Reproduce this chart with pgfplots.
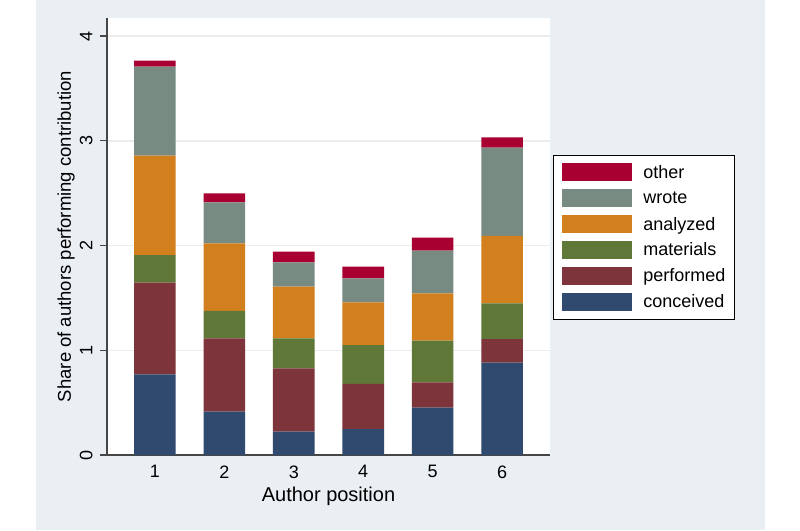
\documentclass[border=0pt]{standalone}
\usepackage{fontspec}
\setmainfont{Liberation Sans}
\usepackage{pgfplots}
\usepackage{pgfplotstable}
\pgfplotsset{compat=1.18}

\definecolor{bgblue}{HTML}{E9EFF3}
\definecolor{cconc}{RGB}{47,74,110}
\definecolor{cperf}{RGB}{125,52,58}
\definecolor{cmat}{RGB}{95,120,55}
\definecolor{canal}{RGB}{210,127,30}
\definecolor{cwrote}{RGB}{120,139,131}
\definecolor{cother}{RGB}{168,0,48}
\definecolor{axgray}{RGB}{70,70,70}
\definecolor{gridgray}{RGB}{236,236,236}

% share of authors per contribution, by author position
\pgfplotstableread{
pos conceived performed materials analyzed wrote other
1   0.770     0.875     0.264     0.948    0.850 0.057
2   0.414     0.700     0.261     0.646    0.391 0.086
3   0.223     0.604     0.287     0.493    0.232 0.102
4   0.248     0.430     0.372     0.408    0.229 0.111
5   0.452     0.242     0.397     0.452    0.407 0.125
6   0.881     0.226     0.341     0.643    0.843 0.099
}\contrib

\begin{document}
\begin{tikzpicture}[x=1pt,y=1pt]
\useasboundingbox (0,0) rectangle (800,530);
\fill[white] (0,0) rectangle (800,530);
\fill[bgblue] (36,0) rectangle (765,530);
\begin{axis}[
  at={(107pt,75pt)}, anchor=south west,
  width=443pt, height=437pt, scale only axis,
  axis background/.style={fill=white},
  ybar stacked, bar width=0.6,
  xmin=0.31, xmax=6.69, ymin=0, ymax=4.172,
  enlargelimits=false,
  xtick={1,2,3,4,5,6}, ytick={0,1,2,3,4},
  axis x line*=bottom, axis y line*=left,
  axis line style={-, axgray, line width=1.3pt},
  tick align=outside, major tick length=7pt,
  x tick style={draw=none},
  y tick style={axgray, line width=1.2pt},
  ymajorgrids, major grid style={gridgray, line width=1.5pt},
  /pgf/number format/assume math mode=true,
  tick label style={font=\fontsize{18}{21}\selectfont},
  yticklabel style={xshift=-4pt, rotate=90, anchor=south},
  xlabel={Author position},
  ylabel={Share of authors performing contribution},
  every axis x label/.style={at={(axis description cs:0.5,-0.0938)}, anchor=center, font=\fontsize{20}{24}\selectfont},
  every axis y label/.style={at={(axis description cs:-0.0926,0.5)}, rotate=90, anchor=center, font=\fontsize{18.5}{22}\selectfont},
  legend image code/.code={\fill[#1] (0pt,-9pt) rectangle (70pt,9pt);},
  reverse legend, legend cell align=left,
  legend style={at={(axis description cs:1.0068,0.6865)}, anchor=north west,
    draw=black, line width=0.9pt, fill=white,
    font=\fontsize{18}{21}\selectfont,
    inner xsep=9pt, inner ysep=8pt, row sep=7.9pt,
    nodes={inner sep=0pt},
    /tikz/every odd column/.append style={column sep=11pt}},
]
\addplot[fill=cconc, draw=none] table[x=pos, y=conceived] {\contrib};
\addlegendentry{conceived}
\addplot[fill=cperf, draw=none] table[x=pos, y=performed] {\contrib};
\addlegendentry{performed}
\addplot[fill=cmat, draw=none] table[x=pos, y=materials] {\contrib};
\addlegendentry{materials}
\addplot[fill=canal, draw=none] table[x=pos, y=analyzed] {\contrib};
\addlegendentry{analyzed}
\addplot[fill=cwrote, draw=none] table[x=pos, y=wrote] {\contrib};
\addlegendentry{wrote}
\addplot[fill=cother, draw=none] table[x=pos, y=other] {\contrib};
\addlegendentry{other}
\end{axis}
\end{tikzpicture}
\end{document}
